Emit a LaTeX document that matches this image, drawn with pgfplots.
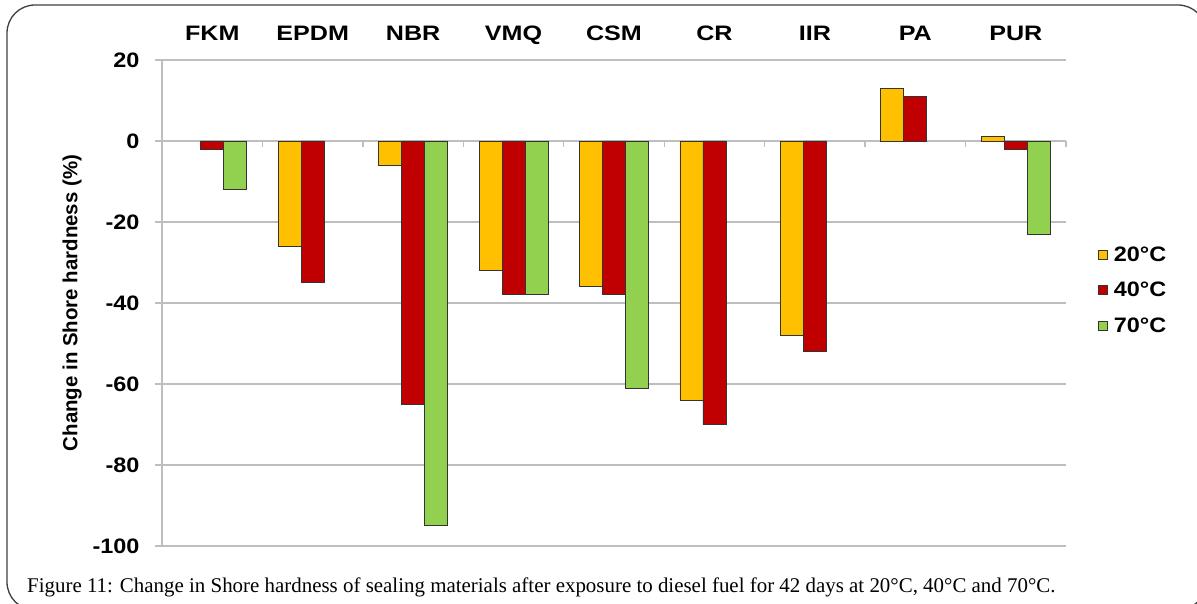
\documentclass[border=0pt]{standalone}
\usepackage{graphicx}
\usepackage{fontspec}
\usepackage{pgfplots}
\pgfplotsset{compat=1.18}
\setmainfont{Liberation Serif}
\newfontfamily\arial{Liberation Sans}
\newcommand\sx[1]{\scalebox{1.12}[1]{#1}}
\newcommand\sxx[1]{\scalebox{1.2}[1]{#1}}
\definecolor{cy}{HTML}{FFC000}
\definecolor{cr}{HTML}{C00000}
\definecolor{cg}{HTML}{92D050}
\definecolor{gridc}{HTML}{BEBEBE}
\begin{document}
\begin{tikzpicture}[x=1bp,y=1bp]
\fill[white] (0,0) rectangle (1197,604);
\begin{scope}
\clip (0,0) rectangle (1197,604);
\draw[line width=1.3bp, black!75, rounded corners=28bp] (7,-6) rectangle (1206,599);
\end{scope}
\coordinate (A) at (162,58);
\begin{axis}[
  at={(A)}, anchor=south west,
  scale only axis, width=904bp, height=486bp,
  xmin=-0.5, xmax=8.5, ymin=-100, ymax=20,
  ybar=0pt, bar width=23bp,
  axis x line*=top, x axis line style={draw=none},
  xtick={0,...,8},
  xticklabels={\sxx{FKM},\sxx{EPDM},\sxx{NBR},\sxx{VMQ},\sxx{CSM},\sxx{CR},\sxx{IIR},\sxx{PA},\sxx{PUR}},
  major x tick style={draw=none},
  xticklabel style={font=\arial\bfseries\fontsize{21}{24}\selectfont, text depth=0pt, yshift=9bp},
  axis y line*=left,
  y axis line style={gridc, line width=1.5bp},
  ytick={-100,-80,-60,-40,-20,0,20},
  yticklabels={\sx{-100},\sx{-80},\sx{-60},\sx{-40},\sx{-20},\sx{0},\sx{20}},
  yticklabel style={font=\arial\bfseries\fontsize{21}{24}\selectfont, xshift=-12bp},
  tick align=outside, major tick length=7bp,
  major y tick style={gridc, line width=1.5bp},
  ymajorgrids, grid style={gridc, line width=1.5bp},
  ylabel={Change in Shore hardness (\%)},
  ylabel style={font=\arial\bfseries\fontsize{20.5}{24}\selectfont, yshift=4bp},
  every axis plot/.append style={draw=black!80, line width=0.9bp},
  legend style={at={(1.032,0.625)}, anchor=north west, draw=none, fill=none,
    font=\arial\bfseries\fontsize{21}{24}\selectfont, row sep=15.5bp,
    /tikz/every odd column/.append style={column sep=4bp}},
  legend cell align=left,
  legend image code/.code={\draw[#1, line width=0.8bp] (0bp,-4.5bp) rectangle (9bp,4.5bp);},
  clip=false,
]
\addplot[fill=cy] coordinates {(1,-26) (2,-6) (3,-32) (4,-36) (5,-64) (6,-48) (7,13) (8,1)};
\addplot[fill=cr] coordinates {(0,-2) (1,-35) (2,-65) (3,-38) (4,-38) (5,-70) (6,-52) (7,11) (8,-2)};
\addplot[fill=cg] coordinates {(0,-12) (2,-95) (3,-38) (4,-61) (8,-23)};
\legend{\sx{20°C},\sx{40°C},\sx{70°C}}
\pgfplotsinvokeforeach{-0.5,0.5,...,8.5}{
  \draw[gridc, line width=1.3bp] (axis cs:#1,0) -- ([yshift=-6bp]axis cs:#1,0);
}
\end{axis}
\node[anchor=base west, inner sep=0pt, font=\fontsize{21}{24}\selectfont] at (27,11)
  {Figure 11: Change in Shore hardness of sealing materials after exposure to diesel fuel for 42 days at 20°C, 40°C and 70°C.};
\pgfresetboundingbox
\useasboundingbox (0,0) rectangle (1197,604);
\end{tikzpicture}
\end{document}
